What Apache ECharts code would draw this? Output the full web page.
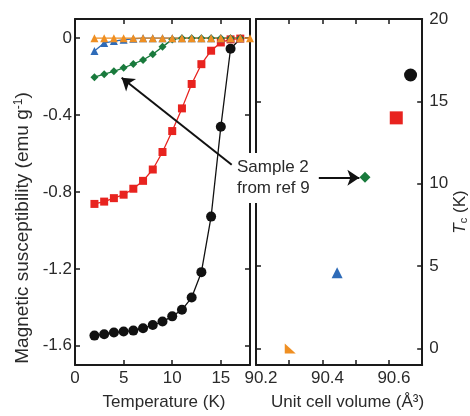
<!DOCTYPE html>
<html><head><meta charset="utf-8">
<script src="https://cdn.jsdelivr.net/npm/echarts@6/dist/echarts.min.js"></script>
<style>html,body{margin:0;padding:0;background:#fff}#c{width:470px;height:416px}</style>
</head><body><div id="c"></div><script>
// ---- Left panel: susceptibility vs temperature ----
const tempsA = [2,3,4,5,6,7,8,9,10,11,12,13,14,15,16,17];
const tempsOrange = [2,3,4,5,6,7,8,9,10,11,12,13,14,15,16,17,18];
const chiBlack = [-1.547,-1.540,-1.531,-1.526,-1.521,-1.509,-1.492,-1.474,-1.447,-1.413,-1.349,-1.217,-0.928,-0.461,-0.055,-0.003];
const chiRed   = [-0.862,-0.850,-0.832,-0.814,-0.783,-0.742,-0.683,-0.592,-0.483,-0.365,-0.238,-0.135,-0.065,-0.022,-0.006,-0.002];
const chiGreen = [-0.203,-0.187,-0.172,-0.154,-0.134,-0.113,-0.083,-0.045,-0.006,0,0,0,0,0,0,0];
const chiBlue  = [-0.066,-0.025,-0.015,-0.008,-0.003,0,0,0,0,0,0,0,0,0,0,0];
const chiOrange= [0,0,0,0,0,0,0,0,0,0,0,0,0,0,0,0,0];
// ---- Right panel: Tc vs unit cell volume ----
const volumes = [90.665, 90.622, 90.528, 90.444, 90.303];
const tcValues = [16.6, 14.0, 10.4, 4.6, 0.0];
// ---- Tick labels ----
const tempTicks = [0,5,10,15];
const chiTicks = [-1.6,-1.2,-0.8,-0.4,0];
const volTicks = [90.3,90.4,90.5,90.6];
const volLabels = [90.2,90.4,90.6];
const tcTicks = [0,5,10,15,20];
// ---- Annotation arrows (data coordinates) ----
const arrow1 = [[16.12,-0.658],[4.80,-0.206]];
const arrow2 = [[90.389,10.37],[90.511,10.37]];
const noteText = 'Sample 2\nfrom ref 9';

const colors = {black:'#111111', red:'#e8231f', green:'#197a3c', blue:'#2e6bb8', orange:'#ef8f22'};
const FONT = '"Liberation Sans", Arial, sans-serif';
const axisCol = '#1a1a1a';
const textCol = '#2a2a2a';

function pairs(xs, ys){ return xs.map((x,i)=>[x, ys[i]]); }

function frameAxis(extra){
  return Object.assign({
    type:'value',
    axisLine:{show:true, onZero:false, lineStyle:{color:axisCol, width:2}},
    axisTick:{show:true, inside:true, length:5, lineStyle:{color:axisCol, width:1.5}},
    axisLabel:{show:false},
    splitLine:{show:false}
  }, extra);
}
const labelStyle = {color:textCol, fontSize:17, fontFamily:FONT};

const xAxis = [
  frameAxis({gridIndex:0, position:'bottom', min:0, max:18,
    axisTick:{show:true, inside:true, length:5, customValues:tempTicks, lineStyle:{color:axisCol,width:1.5}},
    axisLabel:Object.assign({show:true, margin:5, customValues:tempTicks}, labelStyle),
    name:'Temperature (K)', nameLocation:'middle', nameGap:29,
    nameTextStyle:{color:textCol, fontSize:17, fontFamily:FONT, padding:[0,0,0,3]}}),
  frameAxis({gridIndex:0, position:'top', min:0, max:18,
    axisTick:{show:true, inside:true, length:5, customValues:tempTicks, lineStyle:{color:axisCol,width:1.5}}}),
  frameAxis({gridIndex:1, position:'bottom', min:90.2, max:90.7,
    axisTick:{show:true, inside:true, length:5, customValues:volTicks, lineStyle:{color:axisCol,width:1.5}},
    axisLabel:Object.assign({show:true, margin:5, customValues:volLabels, padding:[0,0,0,10],
      formatter:v=>Number(v).toFixed(1)}, labelStyle),
    name:'Unit cell volume (Å³)', nameLocation:'middle', nameGap:29,
    nameTextStyle:{color:textCol, fontSize:17, fontFamily:FONT, padding:[0,0,0,17]}}),
  frameAxis({gridIndex:1, position:'top', min:90.2, max:90.7,
    axisTick:{show:true, inside:true, length:5, customValues:volTicks, lineStyle:{color:axisCol,width:1.5}}})
];
const yAxis = [
  frameAxis({gridIndex:0, position:'left', min:-1.7, max:0.1,
    axisTick:{show:true, inside:true, length:5, customValues:chiTicks, lineStyle:{color:axisCol,width:1.5}},
    axisLabel:Object.assign({show:true, margin:3, customValues:chiTicks,
      formatter:v=>{const n=Number(v); return n===0?'0':n.toFixed(1);}}, labelStyle),
    name:'{m|Magnetic susceptibility (emu g}{s|-1}{m|)}', nameLocation:'middle', nameRotate:90, nameGap:42,
    nameTextStyle:{color:textCol, fontFamily:FONT, padding:[0,72,0,0],
      rich:{m:{fontSize:19, color:textCol, fontFamily:FONT}, s:{fontSize:12, color:textCol, fontFamily:FONT, verticalAlign:'top', padding:[0,0,8,0]}}}}),
  frameAxis({gridIndex:0, position:'right', min:-1.7, max:0.1,
    axisTick:{show:true, inside:true, length:5, customValues:chiTicks, lineStyle:{color:axisCol,width:1.5}}}),
  frameAxis({gridIndex:1, position:'right', min:-1, max:20,
    axisTick:{show:true, inside:true, length:5, customValues:tcTicks, lineStyle:{color:axisCol,width:1.5}},
    axisLabel:Object.assign({show:true, margin:7, customValues:tcTicks}, labelStyle),
    name:'{t|T}{c|c}{k| (K)}', nameLocation:'middle', nameRotate:90, nameGap:9,
    nameTextStyle:{color:textCol, fontFamily:FONT, padding:[0,40,0,0],
      rich:{t:{fontSize:17, fontStyle:'italic', color:textCol, fontFamily:FONT},
            c:{fontSize:11, color:textCol, fontFamily:FONT, verticalAlign:'bottom'},
            k:{fontSize:17, color:textCol, fontFamily:FONT}}}}),
  frameAxis({gridIndex:1, position:'left', min:-1, max:20,
    axisTick:{show:true, inside:true, length:5, customValues:tcTicks, lineStyle:{color:axisCol,width:1.5}}})
];

function lineSeries(name, xs, ys, color, symbol, size, extra){
  return Object.assign({
    name, type:'line', xAxisIndex:0, yAxisIndex:0,
    data:pairs(xs, ys), symbol, symbolSize:size, showSymbol:true,
    lineStyle:{color, width:1.3}, itemStyle:{color, borderWidth:0, opacity:1},
    emphasis:{disabled:true}
  }, extra||{});
}
const arrowLine = (coords)=>({
  silent:true, symbol:['none','arrow'], symbolSize:12,
  itemStyle:{color:'#111'},
  lineStyle:{color:'#111', width:2, type:'solid', opacity:1}, label:{show:false},
  emphasis:{disabled:true},
  data:[[{coord:coords[0]},{coord:coords[1]}]]
});

const rightSymbols = ['circle','rect','diamond','triangle','path://M0,0 L0,10 L11,10 Z'];
const rightSizes = [13, 13, 11, 11, [11,10]];
const rightColors = [colors.black, colors.red, colors.green, colors.blue, colors.orange];

// black markers that sit on the zero baseline are hidden under the orange ones in the original
const blackSize = (val)=> (val[1] > -0.01 ? 0 : 10);

const series = [
  lineSeries('red', tempsA, chiRed, colors.red, 'rect', 8),
  lineSeries('black', tempsA, chiBlack, colors.black, 'circle', blackSize),
  lineSeries('green', tempsA, chiGreen, colors.green, 'diamond', 8, {markLine:arrowLine(arrow1)}),
  lineSeries('blue', tempsA, chiBlue, colors.blue, 'triangle', 8),
  lineSeries('orange', tempsOrange, chiOrange, colors.orange, 'triangle', 8)
];
volumes.forEach((v,i)=>{
  const s = {
    type:'scatter', xAxisIndex:2, yAxisIndex:2,
    data:[[v, tcValues[i]]], symbol:rightSymbols[i], symbolSize:rightSizes[i],
    itemStyle:{color:rightColors[i], opacity:1}, emphasis:{disabled:true}
  };
  if(i===2) s.markLine = arrowLine(arrow2);
  series.push(s);
});

const chart = echarts.init(document.getElementById('c'), null, {renderer:'canvas'});
chart.setOption({
  animation:false,
  backgroundColor:'#ffffff',
  grid:[
    {left:75, top:19, width:175, height:349},
    {left:256, top:19, width:174, height:349}
  ],
  xAxis, yAxis, series,
  graphic:[{
    type:'text', left:234, top:153, z:100,
    style:{text:noteText, fill:textCol, font:'17px '+FONT, lineHeight:21,
      backgroundColor:'#ffffff', padding:[4,3,4,3]}
  }]
});
</script></body></html>
